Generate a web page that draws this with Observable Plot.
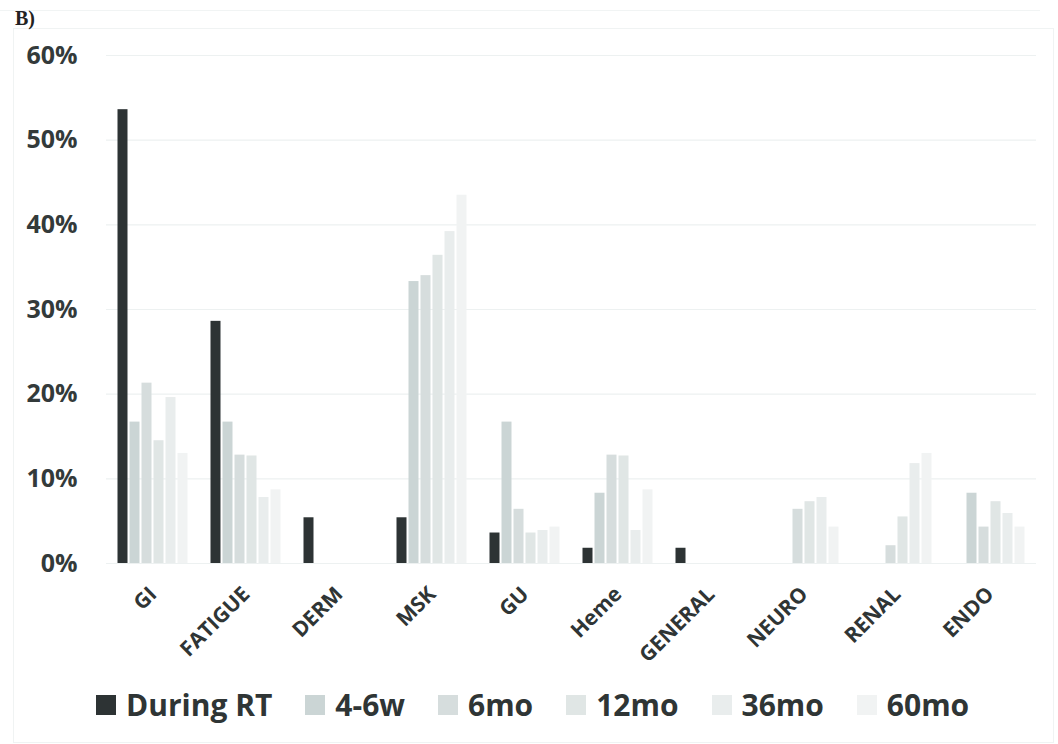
<!DOCTYPE html>
<html>
<head>
<meta charset="utf-8">
<script src="https://cdn.jsdelivr.net/npm/d3@7"></script>
<script src="https://cdn.jsdelivr.net/npm/@observablehq/plot@0.6"></script>
<style>
  body { margin: 0; background: #fff; font-family: "Open Sans", sans-serif; }
  #wrap { position: relative; width: 1058px; height: 744px; overflow: hidden; background: #fff; }
  .topline { position: absolute; left: 0; top: 10px; width: 1040px; height: 0; border-top: 1px solid #f1f4f4; }
  .frame { position: absolute; left: 13px; top: 28px; width: 1041px; height: 715px; border: 1px solid #f0f3f3; box-sizing: border-box; }
  .tag { position: absolute; left: 15px; top: 8px; font-family: "Liberation Serif", "DejaVu Serif", serif; font-weight: bold; font-size: 20px; color: #222; line-height: 1; }
  #chart { position: absolute; left: 0; top: 0; }
  #legend { position: absolute; left: 96px; top: 690px; display: flex; align-items: center; height: 30px; }
  .item { display: flex; align-items: center; margin-right: 33px; }
  .sw { width: 20px; height: 20px; margin-right: 10px; }
  .lab { font-family: "Open Sans", sans-serif; font-weight: bold; font-size: 30px; color: #2f3535; line-height: 1; }
</style>
</head>
<body>
<div id="wrap">
  <div class="topline"></div>
  <div class="frame"></div>
  <div class="tag">B)</div>
  <div id="chart"></div>
  <div id="legend"></div>
</div>
<script>
const categories = ["GI", "FATIGUE", "DERM", "MSK", "GU", "Heme", "GENERAL", "NEURO", "RENAL", "ENDO"];
const series = ["During RT", "4-6w", "6mo", "12mo", "36mo", "60mo"];
const colors = ["#2d3334", "#cbd5d5", "#d6dddd", "#e0e6e5", "#e9eded", "#f1f3f3"];

// percentages per series, in category order
const duringRT = [53.6, 28.6, 5.4, 5.4, 3.6, 1.8, 1.8, 0, 0, 0];
const w4_6     = [16.7, 16.7, 0, 33.3, 16.7, 8.3, 0, 0, 0, 8.3];
const mo6      = [21.3, 12.8, 0, 34.0, 6.4, 12.8, 0, 6.4, 2.1, 4.3];
const mo12     = [14.5, 12.7, 0, 36.4, 3.6, 12.7, 0, 7.3, 5.5, 7.3];
const mo36     = [19.6, 7.8, 0, 39.2, 3.9, 3.9, 0, 7.8, 11.8, 5.9];
const mo60     = [13.0, 8.7, 0, 43.5, 4.3, 8.7, 0, 4.3, 13.0, 4.3];
const yTicks = [0, 0.1, 0.2, 0.3, 0.4, 0.5, 0.6];

const values = [duringRT, w4_6, mo6, mo12, mo36, mo60];
const data = categories.flatMap((c, i) =>
  series.map((s, j) => ({ category: c, series: s, value: values[j][i] / 100 }))
);

const chart = Plot.plot({
  width: 1058,
  height: 680,
  marginTop: 55,
  marginBottom: 117,
  marginLeft: 105.5,
  marginRight: 22.5,
  style: { background: "transparent", fontFamily: "Open Sans, sans-serif" },
  fx: { domain: categories, padding: 0, label: null, axis: null },
  x: { domain: series, paddingInner: 0.2, paddingOuter: 0.82, axis: null },
  y: { domain: [0, 0.6], label: null },
  color: { domain: series, range: colors },
  marks: [
    Plot.gridY(yTicks, { stroke: "#edf1f1", strokeOpacity: 1, strokeWidth: 1.2 }),
    Plot.barY(data, { fx: "category", x: "series", y: "value", fill: "series" }),
    Plot.axisY(yTicks, {
      tickFormat: d3.format(".0%"), tickSize: 0, tickPadding: 29,
      fontSize: 25, fontWeight: "bold", fill: "#333a3a", label: null
    }),
    Plot.text(categories, {
      fx: d => d, text: d => d, frameAnchor: "bottom",
      rotate: -45, textAnchor: "end", lineAnchor: "bottom",
      dx: 5, dy: 32, fontSize: 21, fontWeight: "bold", fill: "#2f3535"
    })
  ]
});
document.getElementById("chart").appendChild(chart);

const legend = document.getElementById("legend");
series.forEach((s, i) => {
  const item = document.createElement("div");
  item.className = "item";
  const sw = document.createElement("div");
  sw.className = "sw";
  sw.style.background = colors[i];
  const lab = document.createElement("span");
  lab.className = "lab";
  lab.textContent = s;
  item.appendChild(sw);
  item.appendChild(lab);
  legend.appendChild(item);
});
</script>
</body>
</html>
